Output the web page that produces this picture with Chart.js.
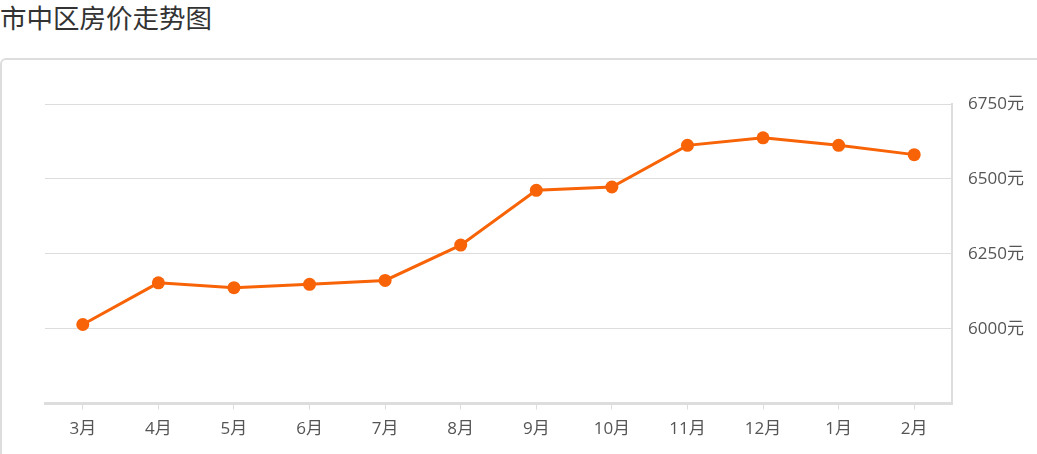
<!DOCTYPE html>
<html lang="zh-CN">
<head>
<meta charset="utf-8">
<title>市中区房价走势图</title>
<script src="https://cdn.jsdelivr.net/npm/chart.js@4/dist/chart.umd.min.js"></script>
<style>
    html, body {
        margin: 0;
        padding: 0;
        background: #fff;
        overflow: hidden;
    }

    body {
        width: 1037px;
        height: 454px;
        position: relative;
        font-family: "Microsoft YaHei", "Noto Sans CJK SC", sans-serif;
    }

    .page-title {
        position: absolute;
        left: 0;
        top: 0;
        font-size: 26.5px;
        line-height: 34px;
        color: #333;
        white-space: nowrap;
    }

    .panel {
        position: absolute;
        left: 0;
        top: 58px;
        width: 1060px;
        height: 420px;
        border: 2px solid #ddd;
        border-radius: 6px;
        box-sizing: border-box;
    }

    .chart-box {
        position: absolute;
        left: 0;
        top: 0;
        width: 1037px;
        height: 454px;
    }
</style>
</head>
<body>

<div class="page-title">市中区房价走势图</div>
<div class="panel"></div>

<div class="chart-box">
    <canvas id="priceChart"></canvas>
</div>

<script>
"use strict";

// months along the bottom
const monthLabels = [
    "3月", "4月", "5月", "6月", "7月", "8月",
    "9月", "10月", "11月", "12月", "1月", "2月"
];

// average price (元)
const priceValues = [
    6014, 6153, 6137, 6148, 6161, 6279,
    6462, 6473, 6612, 6637, 6612, 6581
];

// right hand axis
const priceTicks = [5750, 6000, 6250, 6500, 6750];

const PriceChartController = {

    initialize() {

        const canvas =
            document.getElementById("priceChart");

        if (!canvas || typeof Chart === "undefined") {
            console.error("Chart.js not loaded.");
            return;
        }

        const tickFont = {
            family: "'Open Sans', 'Noto Sans CJK SC', sans-serif",
            size: 17
        };

        new Chart(canvas, {
            type: "line",
            data: {
                labels: monthLabels,
                datasets: [
                    {
                        label: "房价",
                        data: priceValues,
                        borderColor: "#f76306",
                        backgroundColor: "#f76306",
                        borderWidth: 3,
                        pointRadius: 6.5,
                        pointBorderWidth: 0,
                        pointHoverRadius: 7,
                        tension: 0,
                        fill: false
                    }
                ]
            },
            options: {
                responsive: true,
                maintainAspectRatio: false,
                animation: false,
                layout: {
                    padding: {
                        left: 45,
                        top: 104,
                        right: 0,
                        bottom: 6
                    }
                },
                plugins: {
                    legend: { display: false },
                    tooltip: { enabled: false }
                },
                scales: {
                    x: {
                        offset: true,
                        grid: {
                            offset: false,
                            drawOnChartArea: false,
                            drawTicks: true,
                            tickLength: 6,
                            color: "#ddd"
                        },
                        border: {
                            display: true,
                            color: "#ddd",
                            width: 3
                        },
                        ticks: {
                            color: "#555",
                            font: tickFont,
                            padding: 9,
                            maxRotation: 0,
                            autoSkip: false
                        }
                    },
                    y: {
                        position: "right",
                        min: priceTicks[0],
                        max: priceTicks[priceTicks.length - 1],
                        afterBuildTicks(axis) {
                            axis.ticks = priceTicks.map(
                                value => ({ value })
                            );
                        },
                        afterFit(axis) {
                            // plot area ends at x = 952
                            axis.width = 85;
                        },
                        grid: {
                            color: "#ddd",
                            lineWidth: 1,
                            drawTicks: false
                        },
                        border: {
                            display: true,
                            color: "#ddd",
                            width: 2
                        },
                        ticks: {
                            color: "#555",
                            font: tickFont,
                            padding: 16,
                            callback(value) {
                                if (value === priceTicks[0]) {
                                    return "";
                                }
                                return value + "元";
                            }
                        }
                    }
                }
            }
        });
    }
};

document.addEventListener("DOMContentLoaded", () => {
    PriceChartController.initialize();
});
</script>
</body>
</html>
